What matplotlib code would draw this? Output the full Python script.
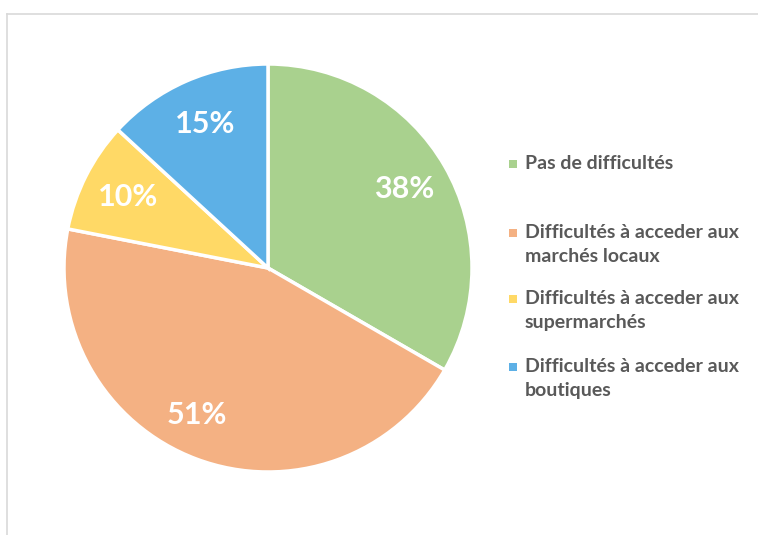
import matplotlib.pyplot as plt
from matplotlib.lines import Line2D

# données
categories = ["Pas de difficultés",
              "Difficultés à acceder aux\nmarchés locaux",
              "Difficultés à acceder aux\nsupermarchés",
              "Difficultés à acceder aux\nboutiques"]
values = [38, 51, 10, 15]
colors = ["#A9D18E", "#F4B183", "#FFD966", "#5DB0E6"]

plt.rcParams['font.family'] = ['Lato', 'DejaVu Sans']

W, H = 758, 535
fig = plt.figure(figsize=(W / 100, H / 100), dpi=100)

# cadre du graphique (coupé à droite et en bas)
fig.add_artist(Line2D([7 / W, 1], [1 - 14 / H, 1 - 14 / H], color="#D9D9D9", lw=1.2, transform=fig.transFigure))
fig.add_artist(Line2D([7 / W, 7 / W], [0, 1 - 14 / H], color="#D9D9D9", lw=1.2, transform=fig.transFigure))

ax = fig.add_axes([64 / W, 63 / H, 408 / W, 408 / H])
total = sum(values)


def fmt(p):
    return "%d%%" % round(p * total / 100)


wedges, texts, autotexts = ax.pie(values, colors=colors, startangle=90, counterclock=False,
                                  autopct=fmt, pctdistance=0.77, radius=1,
                                  wedgeprops=dict(edgecolor="white", linewidth=2.5))
for t in autotexts:
    t.set_color("white")
    t.set_fontsize(22)
    t.set_fontweight("bold")
# léger décalage du label 51% comme dans Excel
x, y = autotexts[1].get_position()
autotexts[1].set_position((x - 0.08, y))
ax.set_xlim(-1, 1)
ax.set_ylim(-1, 1)
ax.set_aspect("equal")

# légende
ys = [164, 233, 299, 367]
for lab, col, y in zip(categories, colors, ys):
    fig.patches.append(plt.Rectangle(((509) / W, 1 - (y + 4) / H), 8 / W, 8 / H,
                                     facecolor=col, transform=fig.transFigure))
    fig.text(525 / W, 1 - (y - 9) / H, lab, fontsize=14, fontweight="bold", color="#595959",
             va="top", ha="left", linespacing=1.5)

fig.savefig("out.png", dpi=100)
